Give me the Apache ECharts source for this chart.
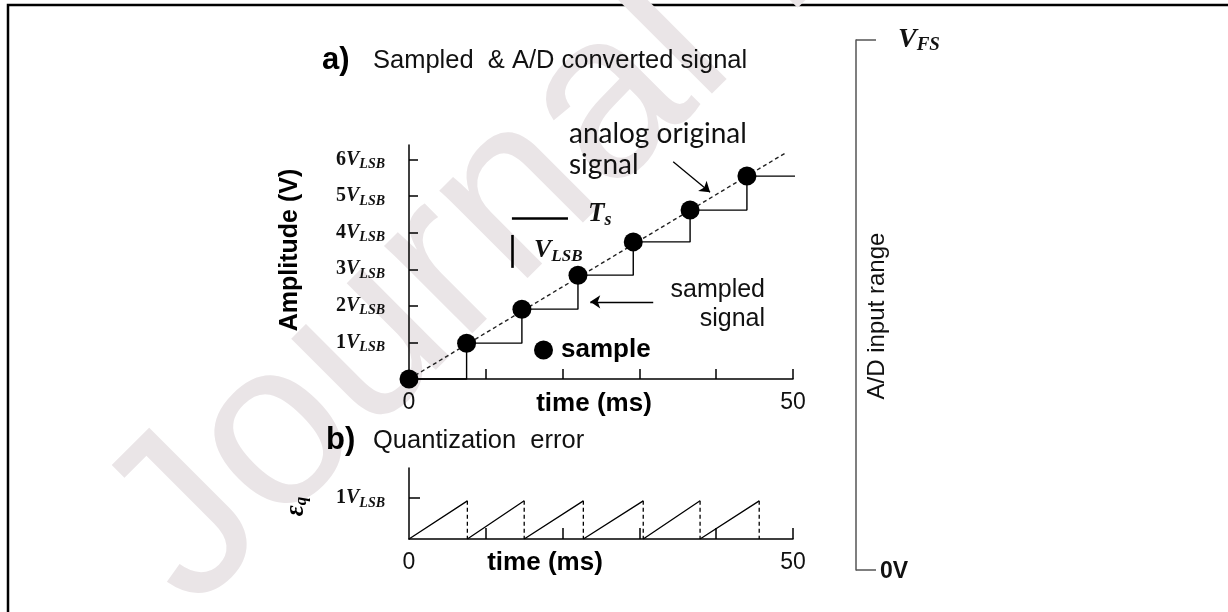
<!DOCTYPE html>
<html><head><meta charset="utf-8">
<script src="https://cdn.jsdelivr.net/npm/echarts@6/dist/echarts.min.js"></script>
<style>html,body{margin:0;padding:0;background:#fff}#c{width:1228px;height:612px}</style>
</head><body><div id="c"></div>
<script>
// ---- data ----
const sampleTimes  = [0, 7.5, 14.7, 22.0, 29.2, 36.6, 44.0];      // ms
const sampleValues = [0, 0.98, 1.91, 2.84, 3.75, 4.62, 5.55];      // in V_LSB
const holdEndTime  = 51.2;                                         // last hold segment end
const analogStart  = [0, 0];
const analogEnd    = [49.0, 6.18];
const errorResetTimes = [0, 7.6, 15.0, 22.7, 30.5, 37.9, 45.6];    // ms
const errorPeak    = 0.93;                                         // in V_LSB
const ampTicks     = [1, 2, 3, 4, 5, 6];
const timeTicks    = [10, 20, 30, 40, 50];
const timeLabels   = [0, 50];
const errTicks     = [1];
const rangeTicks   = [0, 1];
const rangeLabels  = ['0V', 'V_FS'];
const tsBar        = [[13.4, 4.40], [20.7, 4.40]];
const lsbBar       = [[13.5, 3.94], [13.5, 3.04]];
const sampledArrow = [[31.8, 2.11], [23.6, 2.11]];
const analogArrow  = [[34.4, 5.94], [39.2, 5.11]];

const SANS = 'Liberation Sans, Arial, sans-serif';
const SERIF = 'Liberation Serif, Times New Roman, serif';

const samples = sampleTimes.map((t, i) => [t, sampleValues[i]]);
const stairData = samples.concat([[holdEndTime, sampleValues[sampleValues.length - 1]]]);
const GAP = ['-', '-'];
const rampData = [], dropData = [];
for (let i = 0; i < errorResetTimes.length - 1; i++) {
  rampData.push([errorResetTimes[i], 0], [errorResetTimes[i + 1], errorPeak], GAP);
  dropData.push([errorResetTimes[i + 1], errorPeak], [errorResetTimes[i + 1], 0], GAP);
}

const mathRich = (main, sub) => ({
  n: {fontFamily: SERIF, fontWeight: 'bold', fontSize: main, color: '#111', lineHeight: main + 4},
  v: {fontFamily: SERIF, fontWeight: 'bold', fontStyle: 'italic', fontSize: main, color: '#111', lineHeight: main + 4},
  s: {fontFamily: SERIF, fontWeight: 'bold', fontStyle: 'italic', fontSize: sub, color: '#111', lineHeight: 10, verticalAlign: 'bottom'}
});

const blackLine = {lineStyle: {color: '#000', width: 1.5}};
const tickIn = (len, vals) => ({show: true, inside: true, length: len, customValues: vals, lineStyle: {color: '#000', width: 1.5}});

const chart = echarts.init(document.getElementById('c'), null, {renderer: 'canvas'});
chart.setOption({
  animation: false,
  backgroundColor: '#fff',
  grid: [
    {left: 409, top: 145, width: 384, height: 234},
    {left: 409, top: 468, width: 384, height: 71},
    {left: 856, top: 40, width: 1, height: 530}
  ],
  legend: {
    data: [{name: 'sample', icon: 'circle', itemStyle: {color: '#000', opacity: 1}}],
    left: 534, top: 337, padding: 0, itemWidth: 19, itemHeight: 19,
    selectedMode: false,
    textStyle: {fontSize: 26, fontWeight: 'bold', fontFamily: SANS, color: '#000', padding: [0, 0, 0, 3]}
  },
  xAxis: [
    {type: 'value', gridIndex: 0, min: 0, max: 50, interval: 10,
     axisLine: blackLine, axisTick: tickIn(10, timeTicks), splitLine: {show: false},
     axisLabel: {customValues: timeLabels, fontSize: 23, fontFamily: SANS, color: '#111', margin: 12},
     name: 'time (ms)', nameLocation: 'middle', nameGap: 12, nameMoveOverlap: false,
     nameTextStyle: {fontSize: 26, fontWeight: 'bold', fontFamily: SANS, color: '#000', padding: [0, 14, 0, 0]}},
    {type: 'value', gridIndex: 1, min: 0, max: 50, interval: 10,
     axisLine: blackLine, axisTick: tickIn(11, timeTicks), splitLine: {show: false},
     axisLabel: {customValues: timeLabels, fontSize: 23, fontFamily: SANS, color: '#111', margin: 12},
     name: 'time (ms)', nameLocation: 'middle', nameGap: 11, nameMoveOverlap: false,
     nameTextStyle: {fontSize: 26, fontWeight: 'bold', fontFamily: SANS, color: '#000', padding: [0, 112, 0, 0]}},
    {type: 'value', gridIndex: 2, min: 0, max: 1, show: false}
  ],
  yAxis: [
    {type: 'value', gridIndex: 0, min: 0, max: 6.4, interval: 1,
     axisLine: {show: true, lineStyle: {color: '#000', width: 1.5}}, axisTick: tickIn(9, ampTicks), splitLine: {show: false},
     axisLabel: {customValues: ampTicks, margin: 24, formatter: v => `{n|${v}}{v|V}{s|LSB}`, rich: mathRich(20, 14)},
     name: 'Amplitude (V)', nameLocation: 'middle', nameRotate: 90, nameGap: 106, nameMoveOverlap: false,
     nameTextStyle: {fontSize: 25, fontWeight: 'bold', fontFamily: SANS, color: '#000', padding: [0, 0, 0, 24]}},
    {type: 'value', gridIndex: 1, min: 0, max: 1.73, interval: 1,
     axisLine: {show: true, lineStyle: {color: '#000', width: 1.5}}, axisTick: tickIn(11, errTicks), splitLine: {show: false},
     axisLabel: {customValues: errTicks, margin: 24, formatter: v => `{n|${v}}{v|V}{s|LSB}`, rich: mathRich(20, 14)},
     name: '{e|ε}{q|q}', nameLocation: 'middle', nameRotate: 90, nameGap: 99, nameMoveOverlap: false,
     nameTextStyle: {padding: [0, 6, 0, 0], rich: {
       e: {fontFamily: SERIF, fontWeight: 'bold', fontStyle: 'italic', fontSize: 27, color: '#000', lineHeight: 28},
       q: {fontFamily: SERIF, fontWeight: 'bold', fontStyle: 'italic', fontSize: 17, color: '#000', lineHeight: 10, verticalAlign: 'bottom'}
     }}},
    {type: 'value', gridIndex: 2, min: 0, max: 1, interval: 1, position: 'right',
     axisLine: {show: true, lineStyle: {color: '#555', width: 1.5}},
     axisTick: {show: true, inside: false, length: 20, customValues: rangeTicks, lineStyle: {color: '#555', width: 1.5}},
     splitLine: {show: false},
     axisLabel: {customValues: rangeTicks, margin: 23,
       formatter: v => v === 0 ? `{z|${rangeLabels[0]}}` : `{p|}{v|V}{s|FS}`,
       rich: {
         z: {fontFamily: SANS, fontWeight: 'bold', fontSize: 23, color: '#111', padding: [4, 0, 0, 0]},
         p: {width: 18},
         v: {fontFamily: SERIF, fontWeight: 'bold', fontStyle: 'italic', fontSize: 28, color: '#111', lineHeight: 30},
         s: {fontFamily: SERIF, fontWeight: 'bold', fontStyle: 'italic', fontSize: 19, color: '#111', lineHeight: 10, verticalAlign: 'bottom'}
       }},
     name: 'A/D input range', nameLocation: 'middle', nameRotate: 90, nameGap: 8, nameMoveOverlap: false,
     nameTextStyle: {fontSize: 24, fontFamily: SANS, color: '#111', padding: [0, 22, 0, 0]}}
  ],
  series: [
    {type: 'line', name: 'analog original signal', xAxisIndex: 0, yAxisIndex: 0, data: [analogStart, analogEnd],
     symbol: 'none', silent: true, z: 2, lineStyle: {color: '#222', width: 1.4, type: [4, 3]}},
    {type: 'line', name: 'sampled signal', xAxisIndex: 0, yAxisIndex: 0, data: stairData, step: 'end',
     symbol: 'none', silent: true, clip: false, z: 3, lineStyle: {color: '#000', width: 1.4},
     markLine: {
       silent: true, symbol: 'none', symbolSize: 10, label: {show: false},
       lineStyle: {type: 'solid', color: '#000', width: 1.3},
       data: [
         [{coord: sampledArrow[0], symbol: 'none'}, {coord: sampledArrow[1], symbol: 'arrow'}],
         [{coord: analogArrow[0], symbol: 'none'}, {coord: analogArrow[1], symbol: 'arrow'}],
         [{coord: tsBar[0], lineStyle: {width: 2.6}}, {coord: tsBar[1]}],
         [{coord: lsbBar[0], lineStyle: {width: 2.6}}, {coord: lsbBar[1]}]
       ]
     }},
    {type: 'scatter', name: 'sample', xAxisIndex: 0, yAxisIndex: 0, data: samples,
     symbolSize: 19, itemStyle: {color: '#000', opacity: 1}, z: 5, silent: true},
    {type: 'line', name: 'error ramp', xAxisIndex: 1, yAxisIndex: 1, data: rampData,
     symbol: 'none', silent: true, connectNulls: false, lineStyle: {color: '#000', width: 1.3}},
    {type: 'line', name: 'error reset', xAxisIndex: 1, yAxisIndex: 1, data: dropData,
     symbol: 'none', silent: true, connectNulls: false, lineStyle: {color: '#000', width: 1.3, type: [4, 3]}}
  ],
  graphic: [
    {type: 'rect', z: -20, shape: {x: 8, y: 5, width: 1400, height: 800}, style: {fill: 'none', stroke: '#000', lineWidth: 2.5}},
    {type: 'text', z: -10, x: 230, y: 650, rotation: Math.PI / 4,
     style: {text: 'Journal Pre-proof', fontSize: 235, fontFamily: SANS, fill: '#eae5e7', align: 'left', verticalAlign: 'bottom'}},
    {type: 'text', x: 322, y: 60, style: {text: 'a)', fontSize: 31, fontWeight: 'bold', fontFamily: SANS, fill: '#000', verticalAlign: 'middle'}},
    {type: 'text', x: 373, y: 61, style: {text: 'Sampled  & A/D converted signal', fontSize: 25.5, fontFamily: SANS, fill: '#111', verticalAlign: 'middle'}},
    {type: 'text', x: 326, y: 440, style: {text: 'b)', fontSize: 31, fontWeight: 'bold', fontFamily: SANS, fill: '#000', verticalAlign: 'middle'}},
    {type: 'text', x: 373, y: 441, style: {text: 'Quantization  error', fontSize: 25.5, fontFamily: SANS, fill: '#111', verticalAlign: 'middle'}},
    {type: 'text', x: 569, y: 134, style: {text: 'analog original', fontSize: 28, fontFamily: 'Lato, Open Sans, sans-serif', fill: '#111', verticalAlign: 'middle'}},
    {type: 'text', x: 569, y: 165, style: {text: 'signal', fontSize: 28, fontFamily: 'Lato, Open Sans, sans-serif', fill: '#111', verticalAlign: 'middle'}},
    {type: 'text', x: 765, y: 290, style: {text: 'sampled', fontSize: 25, fontFamily: SANS, fill: '#111', align: 'right', verticalAlign: 'middle'}},
    {type: 'text', x: 765, y: 319, style: {text: 'signal', fontSize: 25, fontFamily: SANS, fill: '#111', align: 'right', verticalAlign: 'middle'}},
    {type: 'text', x: 588, y: 214, style: {text: '{v|T}{s|s}', verticalAlign: 'middle', rich: {
      v: {fontFamily: SERIF, fontWeight: 'bold', fontStyle: 'italic', fontSize: 27, fill: '#111', lineHeight: 30},
      s: {fontFamily: SERIF, fontWeight: 'bold', fontStyle: 'italic', fontSize: 18, fill: '#111', lineHeight: 10, verticalAlign: 'bottom'}}}},
    {type: 'text', x: 534, y: 250, style: {text: '{v|V}{s|LSB}', verticalAlign: 'middle', rich: {
      v: {fontFamily: SERIF, fontWeight: 'bold', fontStyle: 'italic', fontSize: 26, fill: '#111', lineHeight: 30},
      s: {fontFamily: SERIF, fontWeight: 'bold', fontStyle: 'italic', fontSize: 17, fill: '#111', lineHeight: 10, verticalAlign: 'bottom'}}}}
  ]
});
</script></body></html>
